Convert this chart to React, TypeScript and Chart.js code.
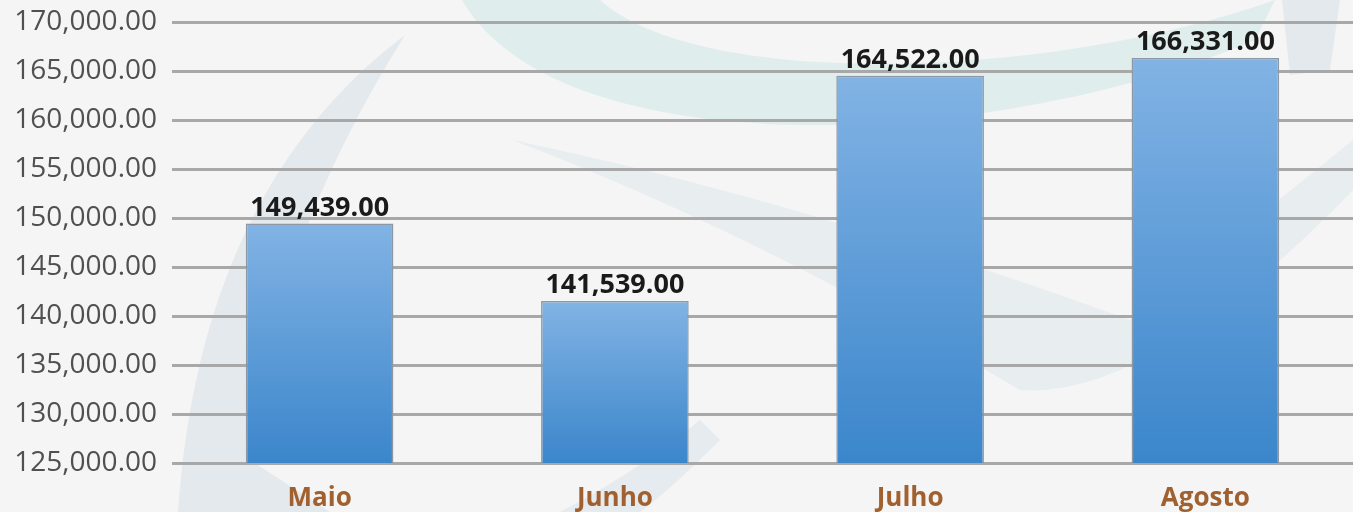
import React, { useEffect, useRef } from "react";
import { Chart, registerables } from "chart.js";

Chart.register(...registerables);

const categories = ["Maio", "Junho", "Julho", "Agosto"];
const values = [149439, 141539, 164522, 166331];
const yMin = 125000;
const yMax = 170000;
const yStep = 5000;

const fmt = (v: number) =>
  v.toLocaleString("en-US", { minimumFractionDigits: 2, maximumFractionDigits: 2 });

const watermark = {
  id: "watermark",
  beforeDraw(chart: any) {
    const c = chart.ctx;
    c.save();
    c.fillStyle = "#f5f5f5";
    c.fillRect(0, 0, chart.width, chart.height);
    // left crescent
    c.fillStyle = "#e4e9ee";
    c.beginPath();
    c.moveTo(178, 512);
    c.quadraticCurveTo(200, 190, 405, 35);
    c.quadraticCurveTo(270, 250, 250, 460);
    c.lineTo(330, 512);
    c.closePath();
    c.fill();
    // top teal crescent
    c.fillStyle = "#e0eded";
    c.beginPath();
    c.moveTo(462, 0);
    c.bezierCurveTo(560, 170, 1000, 150, 1255, 40);
    c.lineTo(1275, 0);
    c.bezierCurveTo(1050, 80, 700, 90, 600, 0);
    c.closePath();
    c.fill();
    // diagonal band
    c.fillStyle = "#e8edf0";
    c.beginPath();
    c.moveTo(512, 140);
    c.quadraticCurveTo(800, 200, 1130, 320);
    c.lineTo(1353, 140);
    c.lineTo(1353, 190);
    c.quadraticCurveTo(1150, 400, 1020, 390);
    c.quadraticCurveTo(750, 230, 512, 140);
    c.closePath();
    c.fill();
    // right edge shape
    c.fillStyle = "#e4e9ee";
    c.beginPath();
    c.moveTo(1282, 0);
    c.lineTo(1340, 0);
    c.lineTo(1330, 70);
    c.lineTo(1290, 75);
    c.closePath();
    c.fill();
    // bottom middle streak
    c.fillStyle = "#e6ebef";
    c.beginPath();
    c.moveTo(560, 512);
    c.quadraticCurveTo(640, 470, 700, 420);
    c.lineTo(720, 440);
    c.quadraticCurveTo(670, 490, 640, 512);
    c.closePath();
    c.fill();
    c.restore();
  },
};

const dataLabels = {
  id: "dataLabels",
  afterDatasetsDraw(chart: any) {
    const c = chart.ctx;
    const meta = chart.getDatasetMeta(0);
    c.save();
    c.font = "bold 27px 'Open Sans'";
    c.fillStyle = "#1a1a1a";
    c.textAlign = "center";
    c.textBaseline = "bottom";
    meta.data.forEach((bar: any, i: number) => {
      c.fillText(fmt(values[i]), bar.x, bar.y - 2);
    });
    c.restore();
  },
};

export default function App() {
  const ref = useRef<HTMLCanvasElement>(null);
  useEffect(() => {
    document.body.style.margin = "0";
    const chart = new Chart(ref.current!, {
      type: "bar",
      data: {
        labels: categories,
        datasets: [
          {
            data: values,
            backgroundColor: (ctx: any) => {
              const ch = ctx.chart;
              const y = ch.scales?.y;
              if (!ch.chartArea || !y || ctx.raw == null) return "#5a9ad9";
              const top = y.getPixelForValue(ctx.raw);
              const bottom = y.getPixelForValue(yMin);
              if (!isFinite(top) || !isFinite(bottom) || bottom - top < 1) return "#5a9ad9";
              const g = ch.ctx.createLinearGradient(0, top, 0, bottom);
              g.addColorStop(0, "#82b3e4");
              g.addColorStop(1, "#3b86cb");
              return g;
            },
            borderColor: "#8c98a4",
            borderWidth: 1.5,
            barPercentage: 0.5,
            categoryPercentage: 1,
          },
        ],
      },
      options: {
        animation: false,
        responsive: false,
        maintainAspectRatio: false,
        layout: { padding: { top: 0, right: 0, left: 0, bottom: 0 } },
        plugins: { legend: { display: false }, tooltip: { enabled: false } },
        scales: {
          x: {
            grid: { display: false },
            border: { display: false },
            ticks: {
              color: "#a0602f",
              font: { family: "'Open Sans'", size: 26, weight: "bold" },
              padding: 12,
            },
            afterFit: (s: any) => {
              s.height = 49;
            },
          },
          y: {
            min: yMin,
            max: yMax,
            grid: { color: "#a8a8a8", lineWidth: 3, drawTicks: false },
            border: { display: false },
            ticks: {
              stepSize: yStep,
              color: "#505050",
              font: { family: "'Open Sans'", size: 28 },
              padding: 15,
              callback: (v: any) => fmt(Number(v)),
            },
            afterFit: (s: any) => {
              s.width = 172;
              s.paddingTop = 22;
            },
          },
        },
      },
      plugins: [watermark, dataLabels],
    });
    return () => chart.destroy();
  }, []);
  return <canvas ref={ref} width={1353} height={512} style={{ display: "block" }} />;
}
